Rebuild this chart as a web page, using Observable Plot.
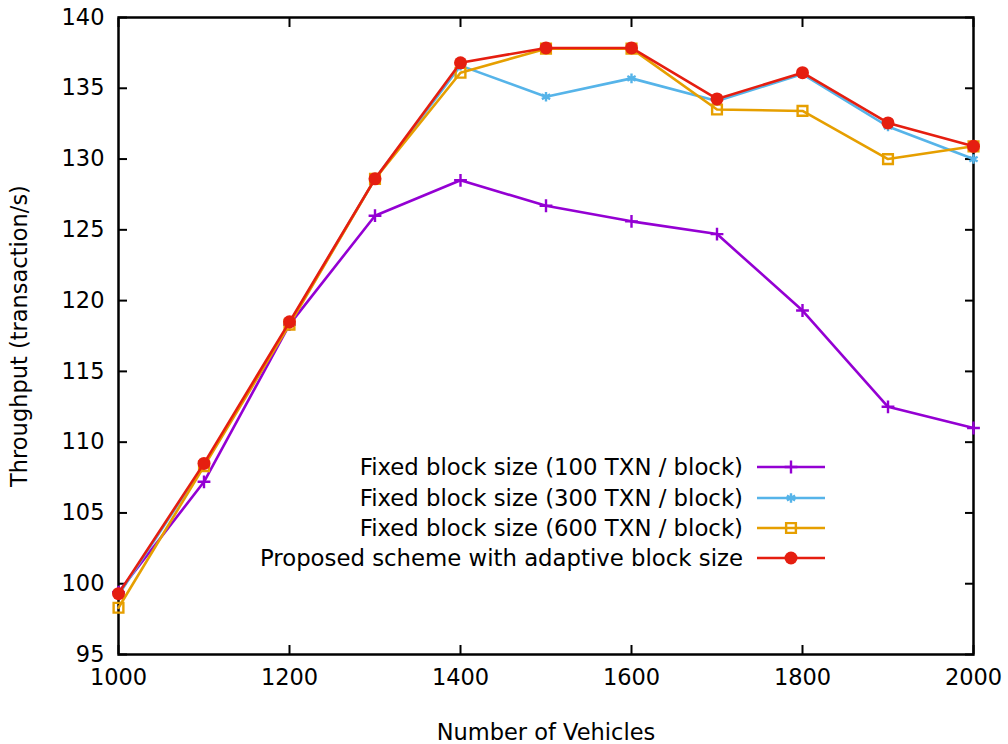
<!DOCTYPE html>
<html>
<head>
<meta charset="utf-8">
<script src="https://cdn.jsdelivr.net/npm/d3@7"></script>
<script src="https://cdn.jsdelivr.net/npm/@observablehq/plot@0.6"></script>
<style>
  body { margin: 0; background: #fff; }
  #wrap { position: relative; width: 1008px; height: 744px; font-family: "DejaVu Sans", Verdana, sans-serif; }
  #legend { position: absolute; right: 183px; top: 452px; font-size: 22.8px; color: #000; }
  #legend .row { display: flex; align-items: center; justify-content: flex-end; height: 30.4px; }
  #legend svg { margin-left: 14px; }
</style>
</head>
<body>
<div id="wrap"><div id="legend"></div></div>
<script>
const vehicles = [1000, 1100, 1200, 1300, 1400, 1500, 1600, 1700, 1800, 1900, 2000];
const fixed100 = [99.4, 107.2, 118.3, 126.0, 128.5, 126.7, 125.6, 124.7, 119.3, 112.5, 111.0];
const fixed300 = [99.2, 108.4, 118.4, 128.6, 136.6, 134.4, 135.7, 134.1, 136.0, 132.3, 130.0];
const fixed600 = [98.3, 108.3, 118.3, 128.6, 136.1, 137.8, 137.8, 133.5, 133.4, 130.0, 130.9];
const adaptive = [99.3, 108.5, 118.5, 128.6, 136.8, 137.85, 137.85, 134.25, 136.1, 132.55, 130.9];

const seriesNames = [
  "Fixed block size (100 TXN / block)",
  "Fixed block size (300 TXN / block)",
  "Fixed block size (600 TXN / block)",
  "Proposed scheme with adaptive block size"
];
const seriesValues = [fixed100, fixed300, fixed600, adaptive];
const seriesColors = ["#9400d3", "#56b4e9", "#e69f00", "#e51e10"];
const seriesSymbols = ["plus", "asterisk", "square", "circle"];
const xTicks = [1000, 1200, 1400, 1600, 1800, 2000];
const yTicks = [95, 100, 105, 110, 115, 120, 125, 130, 135, 140];

const rows = [];
seriesNames.forEach((name, i) => {
  seriesValues[i].forEach((v, j) => rows.push({series: name, vehicles: vehicles[j], value: v}));
});

const symR = {plus: 4.2, asterisk: 4.5, square: 5.5, circle: 6.5};

const marks = [
  Plot.axisX({ticks: xTicks, anchor: "bottom", tickSize: -9, tickFormat: () => "", strokeWidth: 2, label: null}),
  Plot.axisX({ticks: xTicks, anchor: "top", tickSize: -9, tickFormat: () => "", strokeWidth: 2, label: null}),
  Plot.axisY({ticks: yTicks, anchor: "left", tickSize: -9, tickFormat: () => "", strokeWidth: 2, label: null}),
  Plot.axisY({ticks: yTicks, anchor: "right", tickSize: -9, tickFormat: () => "", strokeWidth: 2, label: null}),
  Plot.axisX({ticks: xTicks, anchor: "bottom", tickSize: 0, tickPadding: 15, tickFormat: "d",
    label: "Number of Vehicles", labelAnchor: "center", labelArrow: "none", labelOffset: 85}),
  Plot.axisY({ticks: yTicks, anchor: "left", tickSize: 0, tickPadding: 14,
    label: "Throughput (transaction/s)", labelAnchor: "center", labelArrow: "none", labelOffset: 107}),
  Plot.frame({stroke: "#000", strokeWidth: 2.5})
];

seriesNames.forEach((name, i) => {
  const d = rows.filter(r => r.series === name);
  marks.push(Plot.line(d, {x: "vehicles", y: "value", stroke: seriesColors[i], strokeWidth: 2.6}));
  const sym = seriesSymbols[i];
  const filled = sym === "circle";
  marks.push(Plot.dot(d, {
    x: "vehicles", y: "value", symbol: () => sym,
    r: symR[sym],
    fill: filled ? seriesColors[i] : "none",
    stroke: seriesColors[i], strokeWidth: filled ? 0 : 2.4
  }));
});

const chart = Plot.plot({
  width: 1008, height: 744,
  marginLeft: 118, marginRight: 35, marginTop: 17, marginBottom: 90,
  style: {fontFamily: "'DejaVu Sans', Verdana, sans-serif", fontSize: "22.5px", color: "#000", background: "#fff"},
  x: {domain: [1000, 2000]},
  y: {domain: [95, 140]},
  symbol: {domain: seriesSymbols, range: seriesSymbols},
  marks
});
const wrap = document.getElementById("wrap");
wrap.insertBefore(chart, wrap.firstChild);

// Legend (in-plot, gnuplot style)
const legend = d3.select("#legend");
const symMap = {plus: d3.symbolPlus, asterisk: d3.symbolAsterisk, square: d3.symbolSquare, circle: d3.symbolCircle};
seriesNames.forEach((name, i) => {
  const row = legend.append("div").attr("class", "row");
  row.append("span").text(name);
  const svg = row.append("svg").attr("width", 68).attr("height", 20);
  svg.append("line").attr("x1", 0).attr("x2", 68).attr("y1", 10).attr("y2", 10)
    .attr("stroke", seriesColors[i]).attr("stroke-width", 2.6);
  const sym = seriesSymbols[i];
  const filled = sym === "circle";
  const r = symR[sym];
  svg.append("path").attr("transform", "translate(34,10)")
    .attr("d", d3.symbol(symMap[sym], Math.PI * r * r)())
    .attr("fill", filled ? seriesColors[i] : "none")
    .attr("stroke", seriesColors[i]).attr("stroke-width", filled ? 0 : 2.4);
});
</script>
</body>
</html>
